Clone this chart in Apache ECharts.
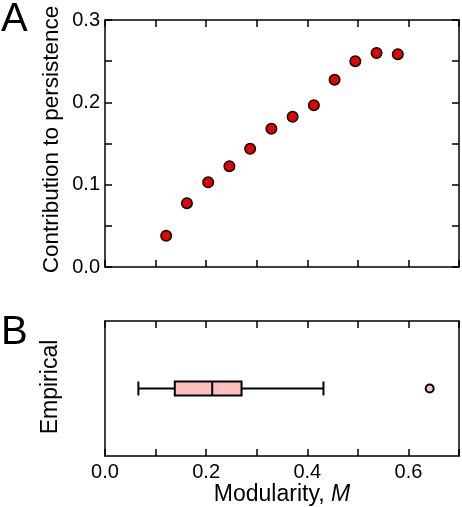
<!DOCTYPE html>
<html>
<head>
<meta charset="utf-8">
<script src="https://cdn.jsdelivr.net/npm/echarts@6/dist/echarts.min.js"></script>
<style>
html,body{margin:0;padding:0;background:#fff;}
#chart{width:462px;height:507px;}
</style>
</head>
<body>
<div id="chart"></div>
<script>
// ---- data ----
const modularity = [0.121, 0.162, 0.204, 0.246, 0.287, 0.329, 0.371, 0.413, 0.454, 0.495, 0.537, 0.579];
const contribution = [0.038, 0.0775, 0.103, 0.1225, 0.1435, 0.168, 0.1825, 0.1965, 0.2275, 0.250, 0.260, 0.2585];
const boxCategories = ['Empirical'];
const boxStats = [0.066, 0.138, 0.212, 0.270, 0.432]; // min, Q1, median, Q3, max
const outliers = [0.642];
const panelLabels = ['A', 'B'];
const yTitleTop = 'Contribution to persistence';

const FONT = "'Liberation Sans', Arial, Helvetica, sans-serif";
const BLACK = '#000';

function isMult(v, step) {
  const r = v / step;
  return Math.abs(r - Math.round(r)) < 1e-6;
}

const axLine = { show: true, onZero: false, lineStyle: { color: BLACK, width: 1.5 } };
const tickCommon = { show: true, inside: true, length: 7, lineStyle: { color: BLACK, width: 1.5 } };

const chart = echarts.init(document.getElementById('chart'), null, { renderer: 'canvas' });

const option = {
  animation: false,
  backgroundColor: '#fff',
  textStyle: { fontFamily: FONT },
  grid: [
    { left: 105, top: 20, width: 354, height: 247 },
    { left: 105, top: 321, width: 354, height: 135 }
  ],
  xAxis: [
    { // top panel bottom
      type: 'value', gridIndex: 0, position: 'bottom', min: 0, max: 0.7, interval: 0.1,
      axisLine: axLine, axisTick: tickCommon,
      axisLabel: { show: false }, splitLine: { show: false }
    },
    { // top panel top mirror
      type: 'value', gridIndex: 0, position: 'top', min: 0, max: 0.7, interval: 0.1,
      axisLine: axLine, axisTick: tickCommon,
      axisLabel: { show: false }, splitLine: { show: false }
    },
    { // bottom panel bottom
      type: 'value', gridIndex: 1, position: 'bottom', min: 0, max: 0.7, interval: 0.1,
      axisLine: axLine, axisTick: tickCommon,
      axisLabel: {
        show: true, color: BLACK, fontSize: 20, fontFamily: FONT, margin: 6,
        formatter: v => isMult(v, 0.2) ? v.toFixed(1) : ''
      },
      splitLine: { show: false },
      name: 'Modularity, {i|M}', nameLocation: 'middle', nameGap: 26,
      nameTextStyle: {
        color: BLACK, fontSize: 23, fontFamily: FONT,
        rich: { i: { fontStyle: 'italic', fontSize: 23, fontFamily: FONT, color: BLACK } }
      }
    },
    { // bottom panel top mirror
      type: 'value', gridIndex: 1, position: 'top', min: 0, max: 0.7, interval: 0.1,
      axisLine: axLine, axisTick: tickCommon,
      axisLabel: { show: false }, splitLine: { show: false }
    }
  ],
  yAxis: [
    { // top panel left
      type: 'value', gridIndex: 0, position: 'left', min: 0, max: 0.3, interval: 0.05,
      axisLine: axLine, axisTick: tickCommon,
      axisLabel: {
        show: true, color: BLACK, fontSize: 20, fontFamily: FONT, margin: 5,
        formatter: v => isMult(v, 0.1) ? v.toFixed(1) : ''
      },
      splitLine: { show: false }
    },
    { // top panel right mirror
      type: 'value', gridIndex: 0, position: 'right', min: 0, max: 0.3, interval: 0.05,
      axisLine: axLine, axisTick: tickCommon,
      axisLabel: { show: false }, splitLine: { show: false }
    },
    { // bottom panel left (category)
      type: 'category', gridIndex: 1, position: 'left', data: boxCategories,
      axisLine: axLine, axisTick: { show: false },
      axisLabel: { show: false }, splitLine: { show: false }
    },
    { // bottom panel right mirror
      type: 'category', gridIndex: 1, position: 'right', data: boxCategories,
      axisLine: axLine, axisTick: { show: false },
      axisLabel: { show: false }, splitLine: { show: false }
    }
  ],
  series: [
    {
      type: 'scatter', xAxisIndex: 0, yAxisIndex: 0,
      data: modularity.map((x, i) => [x, contribution[i]]),
      symbol: 'circle', symbolSize: 10.5,
      itemStyle: { color: '#e60000', borderColor: BLACK, borderWidth: 1.5, opacity: 1 },
      z: 5
    },
    {
      type: 'boxplot', xAxisIndex: 2, yAxisIndex: 2,
      data: [boxStats],
      boxWidth: [14, 14],
      itemStyle: { color: '#ffbfbf', borderColor: BLACK, borderWidth: 2 },
      z: 4
    },
    {
      type: 'scatter', xAxisIndex: 2, yAxisIndex: 2,
      data: outliers.map(v => [v, 0]),
      symbol: 'circle', symbolSize: 8,
      itemStyle: { color: '#ffbfbf', borderColor: BLACK, borderWidth: 2, opacity: 1 },
      z: 5
    }
  ],
  graphic: [
    { type: 'text', left: 1, top: 0, style: { text: panelLabels[0], fontSize: 40, fontFamily: FONT, fill: BLACK } },
    { type: 'text', left: 1, top: 313, style: { text: panelLabels[1], fontSize: 40, fontFamily: FONT, fill: BLACK } },
    { type: 'text', x: 52, y: 139.5, rotation: Math.PI / 2,
      style: { text: yTitleTop, fontSize: 22.5, fontFamily: FONT, fill: BLACK, align: 'center', verticalAlign: 'middle' } },
    { type: 'text', x: 51, y: 387, rotation: Math.PI / 2,
      style: { text: boxCategories[0], fontSize: 23, fontFamily: FONT, fill: BLACK, align: 'center', verticalAlign: 'middle' } }
  ]
};

chart.setOption(option);
</script>
</body>
</html>
